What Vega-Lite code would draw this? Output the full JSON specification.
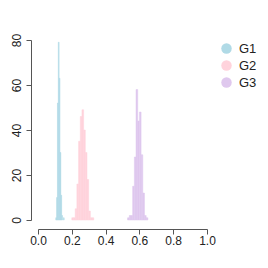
{
  "$schema": "https://vega.github.io/schema/vega-lite/v6.json",
  "width": 169,
  "height": 180,
  "autosize": "none",
  "padding": {"left": 38, "top": 40, "right": 61, "bottom": 48},
  "config": {
    "view": {"stroke": null},
    "font": "Liberation Sans",
    "axis": {"grid": false, "domainColor": "#555555", "tickColor": "#555555", "labelColor": "#222222", "labelFontSize": 12, "tickSize": 5, "title": null, "labelFont": "Liberation Sans"}
  },
  "data": {
    "values": [
      {"group": "G1", "start": 0.105, "end": 0.110, "count": 1},
      {"group": "G1", "start": 0.110, "end": 0.115, "count": 10},
      {"group": "G1", "start": 0.115, "end": 0.120, "count": 52},
      {"group": "G1", "start": 0.120, "end": 0.125, "count": 79},
      {"group": "G1", "start": 0.125, "end": 0.130, "count": 63},
      {"group": "G1", "start": 0.130, "end": 0.135, "count": 30},
      {"group": "G1", "start": 0.135, "end": 0.140, "count": 11},
      {"group": "G1", "start": 0.140, "end": 0.145, "count": 2},
      {"group": "G1", "start": 0.150, "end": 0.155, "count": 1},
      {"group": "G2", "start": 0.20, "end": 0.21, "count": 1},
      {"group": "G2", "start": 0.21, "end": 0.22, "count": 1},
      {"group": "G2", "start": 0.22, "end": 0.23, "count": 5},
      {"group": "G2", "start": 0.23, "end": 0.24, "count": 16},
      {"group": "G2", "start": 0.24, "end": 0.25, "count": 35},
      {"group": "G2", "start": 0.25, "end": 0.26, "count": 46},
      {"group": "G2", "start": 0.26, "end": 0.27, "count": 49},
      {"group": "G2", "start": 0.27, "end": 0.28, "count": 40},
      {"group": "G2", "start": 0.28, "end": 0.29, "count": 30},
      {"group": "G2", "start": 0.29, "end": 0.30, "count": 18},
      {"group": "G2", "start": 0.30, "end": 0.31, "count": 4},
      {"group": "G2", "start": 0.31, "end": 0.32, "count": 1},
      {"group": "G2", "start": 0.32, "end": 0.33, "count": 1},
      {"group": "G3", "start": 0.53, "end": 0.54, "count": 1},
      {"group": "G3", "start": 0.54, "end": 0.55, "count": 2},
      {"group": "G3", "start": 0.55, "end": 0.56, "count": 2},
      {"group": "G3", "start": 0.56, "end": 0.57, "count": 15},
      {"group": "G3", "start": 0.57, "end": 0.58, "count": 28},
      {"group": "G3", "start": 0.58, "end": 0.59, "count": 58},
      {"group": "G3", "start": 0.59, "end": 0.60, "count": 44},
      {"group": "G3", "start": 0.60, "end": 0.61, "count": 48},
      {"group": "G3", "start": 0.61, "end": 0.62, "count": 29},
      {"group": "G3", "start": 0.62, "end": 0.63, "count": 12},
      {"group": "G3", "start": 0.63, "end": 0.64, "count": 2},
      {"group": "G3", "start": 0.64, "end": 0.65, "count": 1}
    ]
  },
  "mark": {"type": "bar", "strokeWidth": 0.5},
  "encoding": {
    "x": {
      "field": "start", "type": "quantitative",
      "scale": {"domain": [0, 1], "nice": false, "zero": false},
      "axis": {"values": [0, 0.2, 0.4, 0.6, 0.8, 1], "format": ".1f", "offset": 9, "labelPadding": 1, "labelFlush": false}
    },
    "x2": {"field": "end"},
    "y": {
      "field": "count", "type": "quantitative", "stack": null,
      "scale": {"domain": [0, 80], "nice": false},
      "axis": {"values": [0, 20, 40, 60, 80], "offset": 7, "labelAngle": -90, "labelPadding": 3, "labelFlush": false}
    },
    "y2": {"datum": 0},
    "stroke": {
      "field": "group", "type": "nominal",
      "scale": {"domain": ["G1", "G2", "G3"], "range": ["#B0DAE6", "#FFD3DC", "#DFC8EE"]},
      "legend": null
    },
    "color": {
      "field": "group", "type": "nominal",
      "scale": {"domain": ["G1", "G2", "G3"], "range": ["#B0DAE6", "#FFD3DC", "#DFC8EE"]},
      "legend": {"orient": "none", "legendX": 182, "legendY": 2, "title": null, "symbolType": "circle", "symbolSize": 110, "symbolStrokeWidth": 0, "symbolOpacity": 1, "labelFontSize": 13, "labelOffset": 6, "rowPadding": 3, "padding": 0, "labelColor": "#222222"}
    }
  }
}
